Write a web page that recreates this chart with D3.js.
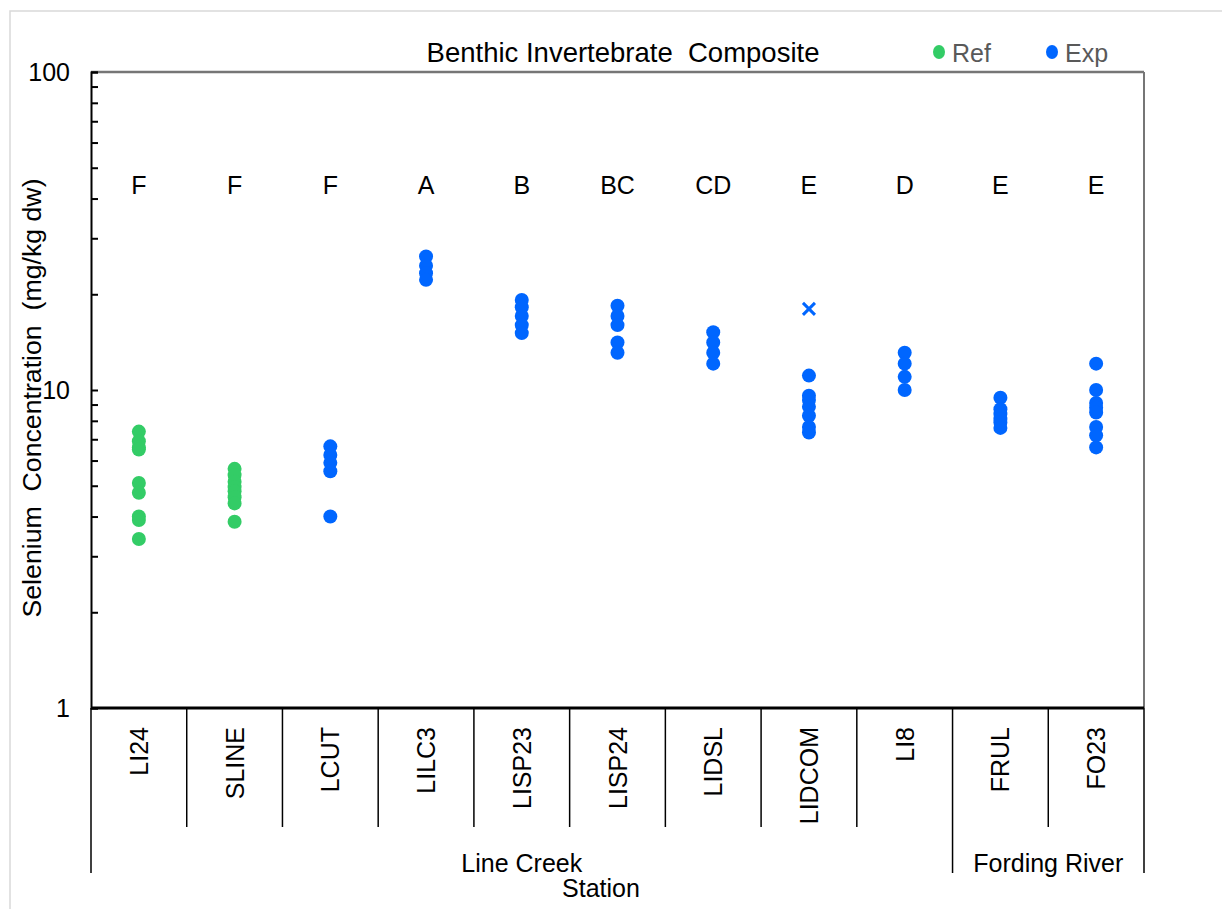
<!doctype html>
<html lang="en">
<head>
  <meta charset="utf-8">
  <title>Benthic Invertebrate Composite</title>
  <script src="https://cdn.jsdelivr.net/npm/d3@7"></script>
  <style>
    body { margin: 0; background: #fff; }
    svg text { font-family: "Liberation Sans", Arial, sans-serif; }
  </style>
</head>
<body>
<svg id="chart" width="1222" height="909"></svg>
<script>
  //
  // Data
  //

  var stations = ['LI24', 'SLINE', 'LCUT', 'LILC3', 'LISP23', 'LISP24', 'LIDSL', 'LIDCOM', 'LI8', 'FRUL', 'FO23']
  // which legend series each station's dots belong to
  var series = ['Ref', 'Ref', 'Exp', 'Exp', 'Exp', 'Exp', 'Exp', 'Exp', 'Exp', 'Exp', 'Exp']
  var letters = ['F', 'F', 'F', 'A', 'B', 'BC', 'CD', 'E', 'D', 'E', 'E']
  var groups = ['Line Creek', 'Fording River']
  var groupSize = [9, 2]
  var seValues = [
    [7.4, 6.9, 6.6, 6.5, 5.1, 4.75, 4.0, 3.9, 3.4],
    [5.65, 5.4, 5.15, 4.95, 4.8, 4.6, 4.4, 3.85],
    [6.65, 6.25, 5.9, 5.55, 4.0],
    [26.3, 24.6, 23.3, 22.2],
    [19.2, 18.2, 17.1, 16.0, 15.1],
    [18.4, 17.1, 16.0, 14.1, 13.1],
    [15.2, 14.1, 13.1, 12.1],
    [11.1, 9.6, 9.3, 8.85, 8.3, 7.65, 7.35],
    [13.1, 12.1, 11.0, 10.0],
    [9.45, 8.7, 8.4, 8.1, 7.9, 7.6],
    [12.1, 10.0, 9.1, 8.8, 8.5, 7.65, 7.2, 6.6]
  ]
  var outlierStation = ['LIDCOM']
  var outlierValue = [18]
  var yTicks = [1, 10, 100]
  var letterLevel = 44

  //
  // Layout
  //

  var colorRef = '#33CC66'
  var colorExp = '#0066FF'
  var plotL = 91, plotR = 1144, plotT = 72, plotB = 708

  var svg = d3.select('#chart')
  var x = d3.scaleBand().domain(stations).range([plotL, plotR])
  var y = d3.scaleLog().domain([1, 100]).range([plotB, plotT])
  var color = function (s) { return s === 'Ref' ? colorRef : colorExp }
  var mid = function (s) { return x(s) + x.bandwidth() / 2 }

  // outer frame
  svg.append('rect')
    .attr('x', 10).attr('y', 11).attr('width', 1400).attr('height', 1200)
    .attr('fill', 'none').attr('stroke', '#d9d9d9').attr('stroke-width', 1.5)

  // plot frame: grey top / right, black left / bottom
  svg.append('line').attr('x1', plotL).attr('x2', plotR).attr('y1', plotT).attr('y2', plotT)
    .attr('stroke', '#767676').attr('stroke-width', 2.5)
  svg.append('line').attr('x1', plotR).attr('x2', plotR).attr('y1', plotT).attr('y2', plotB)
    .attr('stroke', '#767676').attr('stroke-width', 2)

  // y axis with inward ticks
  var minor = []
  for (var d = 1; d < 100; d *= 10) {
    for (var k = 2; k <= 9; k++) minor.push(d * k)
  }
  var yAxis = d3.axisRight(y).tickValues(yTicks.concat(minor)).tickSize(7).tickFormat('')
  var yg = svg.append('g').attr('transform', 'translate(' + plotL + ',0)').call(yAxis)
  yg.select('.domain').attr('stroke', '#000').attr('stroke-width', 2)
  yg.selectAll('.tick line').attr('stroke', '#000').attr('stroke-width', 2)

  svg.selectAll('.ylab').data(yTicks).enter().append('text')
    .attr('x', 70).attr('y', function (d) { return y(d) })
    .attr('dy', '0.35em').attr('text-anchor', 'end')
    .attr('font-size', 25).text(function (d) { return d })

  svg.append('text')
    .attr('transform', 'translate(41,398) rotate(-90)')
    .attr('text-anchor', 'middle').attr('font-size', 26.7)
    .attr('xml:space', 'preserve')
    .text('Selenium  Concentration  (mg/kg dw)')

  // bottom axis
  svg.append('line').attr('x1', plotL).attr('x2', plotR).attr('y1', plotB).attr('y2', plotB)
    .attr('stroke', '#000').attr('stroke-width', 3)

  // category separators, long ones at group boundaries
  var bounds = [0]
  groupSize.forEach(function (n) { bounds.push(bounds[bounds.length - 1] + n) })
  d3.range(stations.length + 1).forEach(function (i) {
    var xp = i < stations.length ? x(stations[i]) : plotR
    svg.append('line').attr('x1', xp).attr('x2', xp).attr('y1', plotB)
      .attr('y2', bounds.indexOf(i) >= 0 ? 873 : 827)
      .attr('stroke', '#000').attr('stroke-width', 1.5)
  })

  svg.selectAll('.stn').data(stations).enter().append('text')
    .attr('transform', function (d) {
      return 'translate(' + (mid(d) + 9) + ',727) rotate(-90)'
    })
    .attr('text-anchor', 'end').attr('font-size', 25).text(function (d) { return d })

  groups.forEach(function (g, i) {
    var x0 = x(stations[bounds[i]])
    var x1 = bounds[i + 1] < stations.length ? x(stations[bounds[i + 1]]) : plotR
    svg.append('text').attr('x', (x0 + x1) / 2).attr('y', 872)
      .attr('text-anchor', 'middle').attr('font-size', 25).text(g)
  })

  svg.append('text').attr('x', 601).attr('y', 897)
    .attr('text-anchor', 'middle').attr('font-size', 25).text('Station')

  // significance letters
  svg.selectAll('.let').data(letters).enter().append('text')
    .attr('x', function (d, i) { return mid(stations[i]) })
    .attr('y', y(letterLevel)).attr('dy', '0.35em')
    .attr('text-anchor', 'middle').attr('font-size', 25).text(function (d) { return d })

  // dots
  stations.forEach(function (s, i) {
    svg.selectAll('.pt' + i).data(seValues[i]).enter().append('circle')
      .attr('cx', mid(s))
      .attr('cy', function (v) { return y(v) })
      .attr('r', 7).attr('fill', color(series[i]))
  })

  // outlier crosses
  outlierStation.forEach(function (s, i) {
    var cx = mid(s), cy = y(outlierValue[i]), h = 6
    svg.append('path')
      .attr('d', 'M' + (cx - h) + ',' + (cy - h) + 'L' + (cx + h) + ',' + (cy + h) +
        'M' + (cx - h) + ',' + (cy + h) + 'L' + (cx + h) + ',' + (cy - h))
      .attr('stroke', colorExp).attr('stroke-width', 3)
  })

  // title and legend
  svg.append('text').attr('x', 623).attr('y', 62)
    .attr('text-anchor', 'middle').attr('font-size', 27.5)
    .attr('xml:space', 'preserve')
    .text('Benthic Invertebrate  Composite')

  var legend = [{ name: 'Ref', x: 939 }, { name: 'Exp', x: 1052 }]
  legend.forEach(function (l) {
    svg.append('ellipse').attr('cx', l.x).attr('cy', 52).attr('rx', 6).attr('ry', 7)
      .attr('fill', color(l.name))
    svg.append('text').attr('x', l.x + 13).attr('y', 62)
      .attr('font-size', 25).attr('fill', '#595959').text(l.name)
  })
</script>
</body>
</html>
